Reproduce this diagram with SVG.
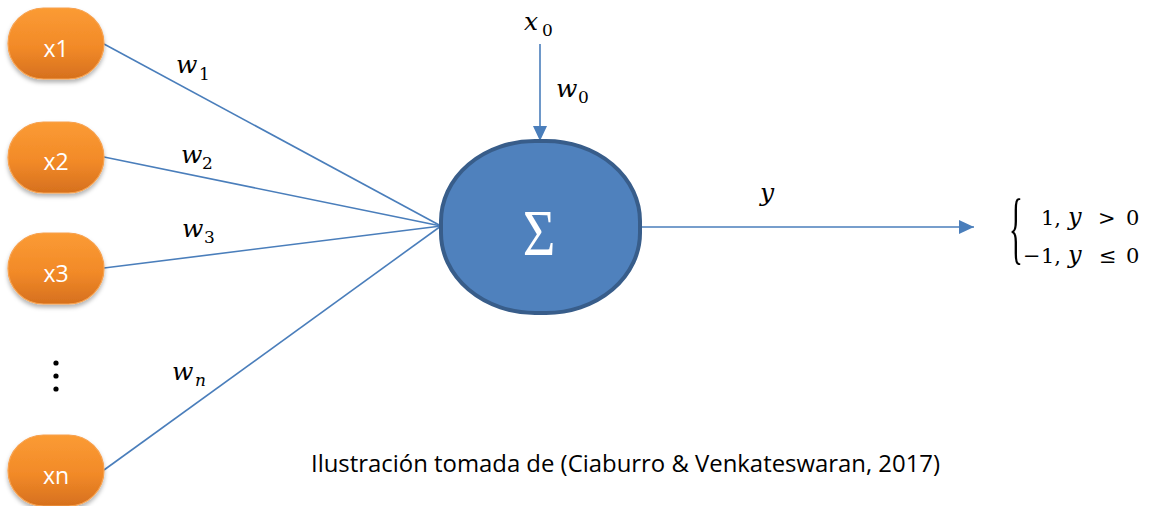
<svg xmlns="http://www.w3.org/2000/svg" width="1160" height="506" viewBox="0 0 1160 506">
<defs>
<linearGradient id="og" x1="0" y1="0" x2="0" y2="1">
<stop offset="0" stop-color="#FB9B34"/>
<stop offset="0.55" stop-color="#F28A28"/>
<stop offset="1" stop-color="#D6701E"/>
</linearGradient>
<filter id="sh" x="-20%" y="-20%" width="140%" height="150%">
<feDropShadow dx="0" dy="3" stdDeviation="2" flood-color="#000" flood-opacity="0.3"/>
</filter>
<marker id="ah" viewBox="0 0 15 14" refX="15" refY="7" markerWidth="15" markerHeight="14" markerUnits="userSpaceOnUse" orient="auto">
<path d="M0,0 L15,7 L0,14 z" fill="#4A7EBB"/>
</marker>
</defs>
<style>
.in rect{fill:url(#og);stroke:#F7A14E;stroke-width:1.2;filter:url(#sh)}
.in text{font-family:"Open Sans","Liberation Sans",sans-serif;font-size:23px;fill:#fff;text-anchor:middle}
.c line{stroke:#4A7EBB;stroke-width:1.6;fill:none}
.m{font-family:"DejaVu Serif","Liberation Serif",serif;font-style:italic;font-size:25px;fill:#000}
.s{font-family:"DejaVu Serif","Liberation Serif",serif;font-size:17px;fill:#000}
.p{font-family:"DejaVu Serif","Liberation Serif",serif;font-size:21px;fill:#000}
.pi{font-family:"DejaVu Serif","Liberation Serif",serif;font-size:24px;font-style:italic;fill:#000}
</style>
<rect width="1160" height="506" fill="#fff"/>
<g class="c" id="connectors">
<line x1="104" y1="44" x2="441" y2="226"/>
<line x1="104" y1="157" x2="441" y2="226"/>
<line x1="104" y1="268" x2="441" y2="226"/>
<line x1="104" y1="470" x2="441" y2="226"/>
<line x1="540" y1="44" x2="540" y2="141" marker-end="url(#ah)"/>
<line x1="641" y1="227" x2="974" y2="227" marker-end="url(#ah)"/>
</g>
<g class="in" id="x1"><rect x="8" y="8" width="96" height="71" rx="35.5"/><text x="56" y="57">x1</text></g>
<g class="in" id="x2"><rect x="8" y="122" width="96" height="71" rx="35.5"/><text x="56" y="170">x2</text></g>
<g class="in" id="x3"><rect x="8" y="233" width="96" height="71" rx="35.5"/><text x="56" y="282">x3</text></g>
<g class="in" id="xn"><rect x="8" y="435" width="96" height="71" rx="35.5"/><text x="56" y="484">xn</text></g>
<g id="dots" fill="#000">
<circle cx="56" cy="363" r="2.6"/><circle cx="56" cy="376" r="2.6"/><circle cx="56" cy="389" r="2.6"/>
</g>
<g id="sum">
<rect x="441" y="141" width="199" height="172" rx="94" ry="80" fill="#4F81BD" stroke="#385D8A" stroke-width="4"/>
<text transform="translate(539,255) scale(0.85,1)" text-anchor="middle" font-family="Liberation Serif, DejaVu Serif, serif" font-size="66" fill="#fff">Σ</text>
</g>
<g id="labels">
<text class="m" x="176" y="73">w</text><text class="s" x="199" y="80">1</text>
<text class="m" x="181" y="163">w</text><text class="s" x="202" y="169">2</text>
<text class="m" x="182" y="237">w</text><text class="s" x="204" y="243">3</text>
<text class="m" x="172" y="380">w</text><text class="s" x="195" y="386" font-style="italic">n</text>
<text class="m" x="556" y="97">w</text><text class="s" x="578" y="103">0</text>
<text class="m" x="524" y="30">x</text><text class="s" x="542" y="36">0</text>
<text class="m" x="760" y="201">y</text>
</g>
<g id="output">
<text transform="translate(1009,254) scale(0.36,1)" font-family="Liberation Serif, DejaVu Serif, serif" font-size="80" fill="#000">{</text>
<text class="p" x="1041" y="225">1,</text>
<text class="pi" x="1068" y="225">y</text>
<text class="p" x="1098" y="225">&gt;</text>
<text class="p" x="1126" y="225">0</text>
<text class="p" x="1023" y="263" font-size="20">−</text>
<text class="p" x="1041" y="263">1,</text>
<text class="pi" x="1068" y="263">y</text>
<text class="p" x="1099" y="263">≤</text>
<text class="p" x="1126" y="263">0</text>
</g>
<text id="caption" x="311" y="472" font-family="Open Sans, Liberation Sans, sans-serif" font-size="23" textLength="629" lengthAdjust="spacingAndGlyphs" fill="#000">Ilustración tomada de (Ciaburro &amp; Venkateswaran, 2017)</text>
</svg>
